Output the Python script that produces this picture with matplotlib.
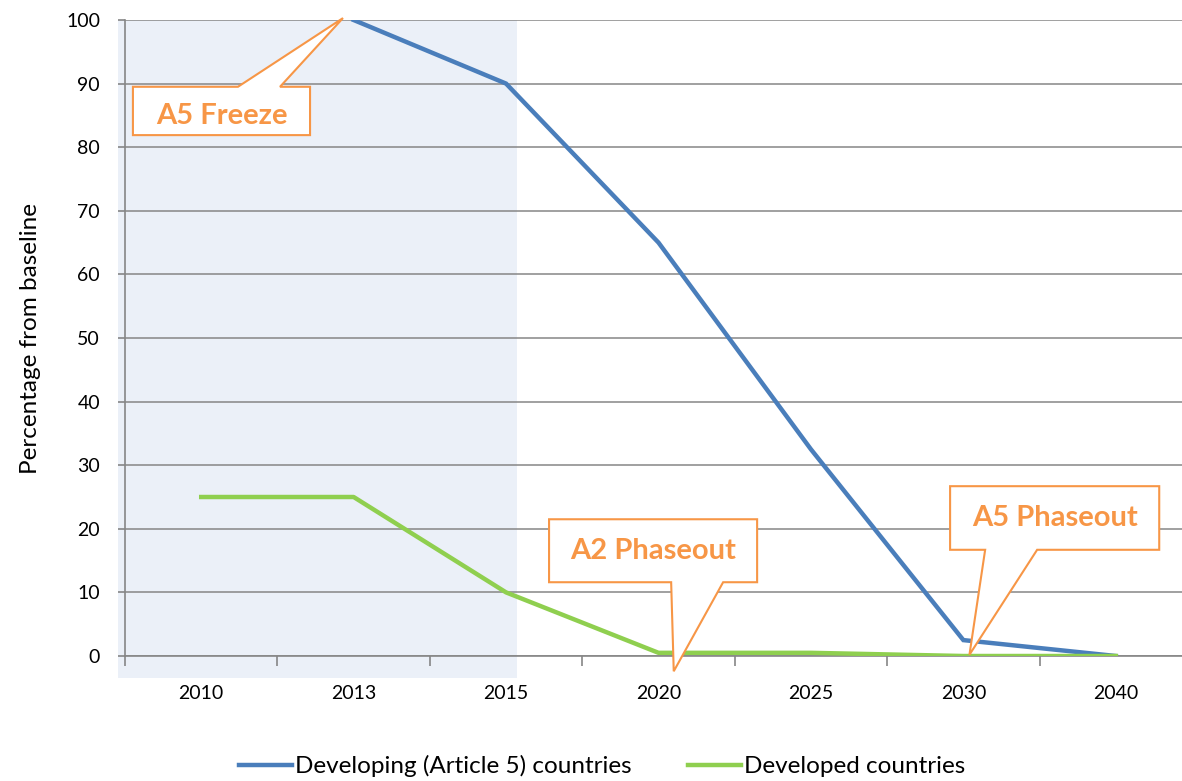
import matplotlib.pyplot as plt
from matplotlib.patches import Polygon, Rectangle

plt.rcParams['font.family'] = ['Lato', 'DejaVu Sans']

years = ['2010', '2013', '2015', '2020', '2025', '2030', '2040']
developing = [None, 100, 90, 65, 32.5, 2.5, 0]
developed = [25, 25, 10, 0.5, 0.5, 0, 0]

blue = '#4A7EBB'
green = '#8FCF4F'
orange = '#F79646'
gray = '#868686'
fs = 17.5
tfs = 14

fig = plt.figure(figsize=(11.82, 7.81), dpi=100)
ax = fig.add_axes([125 / 1182, 1 - 656 / 781, 1067 / 1182, 636 / 781])

xs = [i + 0.5 for i in range(len(years))]
dev_x = [x for x, v in zip(xs, developing) if v is not None]
dev_y = [v for v in developing if v is not None]

# shaded period up to 2015
ax.add_patch(Rectangle((-0.046, -3.5), 2.618, 103.5, facecolor='#EBF0F8',
                       edgecolor='none', zorder=0, clip_on=False))

ax.plot(dev_x, dev_y, color=blue, lw=3.2, solid_joinstyle='miter',
        label='Developing (Article 5) countries', zorder=3)
ax.plot(xs, developed, color=green, lw=3.2,
        label='Developed countries', zorder=3)

ax.set_xlim(0, 7)
ax.set_ylim(0, 100)
ax.set_yticks(range(0, 101, 10))
ax.set_xticks(range(0, 8))
ax.set_xticklabels([])
ax.set_xticks(xs, minor=True)
ax.set_xticklabels(years, minor=True)
ax.tick_params(axis='x', which='major', length=7, color=gray, width=1.2)
ax.tick_params(axis='x', which='minor', length=0, pad=21, labelsize=tfs)
ax.tick_params(axis='y', length=5, color=gray, width=1.2, pad=13, labelsize=tfs)
ax.yaxis.grid(True, color=gray, lw=1.1)
ax.set_axisbelow(True)
for s in ['top', 'right']:
    ax.spines[s].set_visible(False)
for s in ['left', 'bottom']:
    ax.spines[s].set_color(gray)
    ax.spines[s].set_linewidth(1.2)
ax.spines['left'].set_zorder(1)
ax.set_ylabel('Percentage from baseline', fontsize=fs, labelpad=18)


def callout(x0, x1, y0, y1, b0, b1, tip, text, top=False):
    if top:
        pts = [(x0, y1), (b0, y1), tip, (b1, y1), (x1, y1), (x1, y0), (x0, y0)]
    else:
        pts = [(x0, y1), (x1, y1), (x1, y0), (b1, y0), tip, (b0, y0), (x0, y0)]
    ax.add_patch(Polygon(pts, closed=True, facecolor='white', edgecolor=orange,
                         lw=1.5, zorder=5, clip_on=False))
    ax.text((x0 + x1) / 2, (y0 + y1) / 2 - (0.8 if top else 0), text,
            color=orange, fontsize=21, fontweight='bold',
            ha='center', va='center', zorder=6)


callout(0.052, 1.214, 81.9, 89.5, 0.741, 1.017, (1.43, 100.3), 'A5 Freeze', top=True)
callout(2.782, 4.147, 11.6, 21.5, 3.583, 3.924, (3.60, -2.4), 'A2 Phaseout')
callout(5.413, 6.785, 16.7, 26.7, 5.643, 5.984, (5.54, 0.2), 'A5 Phaseout')

fig.legend(loc='center', bbox_to_anchor=(602 / 1182, 1 - 766 / 781), ncol=2,
           frameon=False, fontsize=fs, handlelength=2.2, handletextpad=0.12,
           columnspacing=2.3)

fig.savefig('out.png', dpi=100)
